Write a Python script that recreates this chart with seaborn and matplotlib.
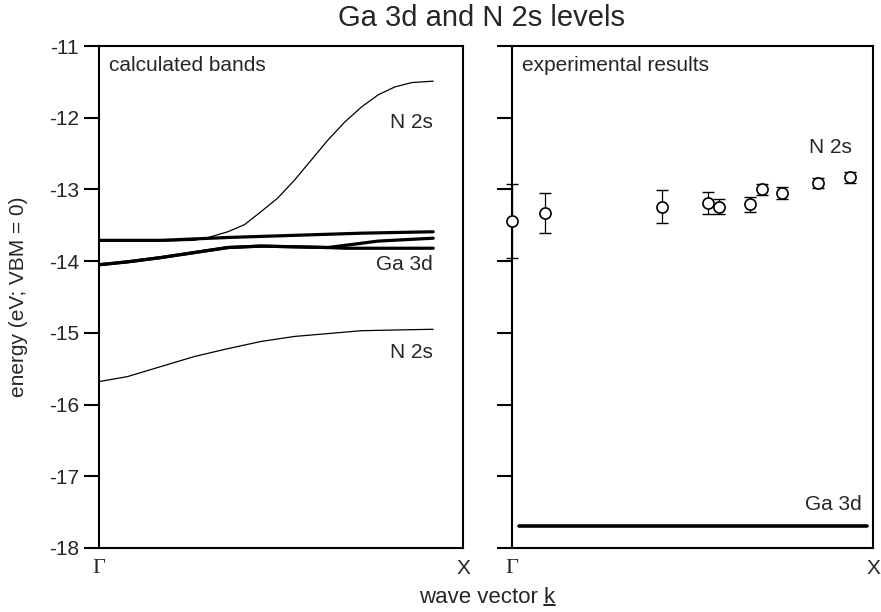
import numpy as np
import pandas as pd
import matplotlib
matplotlib.use("Agg")
import matplotlib.pyplot as plt
import seaborn as sns
from matplotlib.lines import Line2D

# ---------------- data ----------------
# left panel: calculated bands (k from Gamma=0 to X=1)
k_n2s_up = [0.0, 0.17, 0.26, 0.30, 0.354, 0.40, 0.445, 0.491, 0.537, 0.583, 0.629, 0.675, 0.721, 0.767, 0.813, 0.859, 0.918]
e_n2s_up = [-13.72, -13.72, -13.71, -13.67, -13.59, -13.49, -13.31, -13.12, -12.87, -12.59, -12.31, -12.06, -11.85, -11.68, -11.57, -11.51, -11.49]

k_n2s_low = [0.0, 0.078, 0.17, 0.262, 0.354, 0.445, 0.537, 0.629, 0.721, 0.813, 0.918]
e_n2s_low = [-15.68, -15.61, -15.47, -15.33, -15.22, -15.12, -15.05, -15.01, -14.97, -14.96, -14.95]

k_ga_a = [0.0, 0.17, 0.354, 0.537, 0.721, 0.918]
e_ga_a = [-13.71, -13.71, -13.67, -13.64, -13.61, -13.59]

k_ga_b1 = [0.0, 0.078, 0.17, 0.262, 0.354, 0.445, 0.537, 0.629, 0.675, 0.767, 0.918]
e_ga_b1 = [-14.05, -14.01, -13.95, -13.88, -13.81, -13.79, -13.80, -13.81, -13.78, -13.72, -13.68]

k_ga_b2 = [0.0, 0.078, 0.17, 0.262, 0.354, 0.445, 0.537, 0.629, 0.675, 0.918]
e_ga_b2 = [-14.05, -14.01, -13.95, -13.88, -13.81, -13.79, -13.80, -13.81, -13.82, -13.82]

# right panel: experimental results
k_exp = [0.0, 0.091, 0.416, 0.543, 0.573, 0.659, 0.691, 0.749, 0.848, 0.936]
e_exp = [-13.44, -13.33, -13.24, -13.19, -13.24, -13.21, -13.00, -13.05, -12.91, -12.83]
err_exp = [0.51, 0.28, 0.23, 0.15, 0.10, 0.10, 0.08, 0.08, 0.07, 0.08]

k_ga_exp = [0.02, 0.983]
e_ga_exp = [-17.69, -17.69]

y_ticks = [-11, -12, -13, -14, -15, -16, -17, -18]
y_tick_labels = ["-11", "-12", "-13", "-14", "-15", "-16", "-17", "-18"]
x_ticks = [0, 1]
x_tick_labels = ["\u0393", "X"]

# ---------------- style ----------------
sns.set_theme(style="ticks")
plt.rcParams["font.family"] = ["Liberation Sans", "DejaVu Sans"]
plt.rcParams["axes.unicode_minus"] = False

fig = plt.figure(figsize=(8.81, 6.12), dpi=100)
axL = fig.add_axes([0.1124, 0.1046, 0.4132, 0.8202])
axR = fig.add_axes([0.5812, 0.1046, 0.4098, 0.8202])

thick = 2.3
thin = 0.9

# left panel curves
sns.lineplot(x=k_n2s_up, y=e_n2s_up, ax=axL, color="black", lw=thin, sort=False)
sns.lineplot(x=k_n2s_low, y=e_n2s_low, ax=axL, color="black", lw=thin, sort=False)
for kk, ee in [(k_ga_a, e_ga_a), (k_ga_b1, e_ga_b1), (k_ga_b2, e_ga_b2)]:
    sns.lineplot(x=kk, y=ee, ax=axL, color="black", lw=thick, sort=False)

# right panel
eb = axR.errorbar(k_exp, e_exp, yerr=err_exp, fmt="none", ecolor="black",
                  elinewidth=0.9, capsize=4, capthick=1.0, zorder=4)
for child in eb.get_children():
    child.set_clip_on(False)
sns.scatterplot(x=k_exp, y=e_exp, ax=axR, marker="o", s=64,
                facecolor="white", edgecolor="black", linewidth=1.2, zorder=5,
                clip_on=False)
sns.lineplot(x=k_ga_exp, y=e_ga_exp, ax=axR, color="black", lw=2.6, sort=False)

fs_text = 15
for ax in (axL, axR):
    ax.set_xlim(0, 1)
    ax.set_ylim(-18, -11)
    ax.set_yticks(y_ticks)
    ax.set_xticks(x_ticks)
    for sp in ax.spines.values():
        sp.set_visible(True)
        sp.set_linewidth(1.5)
        sp.set_color("black")
    ax.tick_params(axis="y", direction="out", length=11, width=1.5, color="black")
    ax.tick_params(axis="x", length=0, pad=8)
    ax.set_xticklabels([])
    ax.set_xlabel("")
    ax.set_ylabel("")
    ax.grid(False)

axL.set_yticklabels(y_tick_labels, fontsize=15)
axR.set_yticklabels([])

for ax in (axL, axR):
    ax.text(0, -18.28, x_tick_labels[0], ha="center", va="center", fontsize=16,
            family=["Liberation Serif", "DejaVu Serif"], clip_on=False)
    ax.text(1, -18.28, x_tick_labels[1], ha="center", va="center", fontsize=15, clip_on=False)

axL.text(0.028, -11.27, "calculated bands", ha="left", va="center", fontsize=fs_text)
axL.text(0.918, -12.07, "N 2s", ha="right", va="center", fontsize=fs_text)
axL.text(0.918, -14.05, "Ga 3d", ha="right", va="center", fontsize=fs_text)
axL.text(0.918, -15.27, "N 2s", ha="right", va="center", fontsize=fs_text)

axR.text(0.028, -11.27, "experimental results", ha="left", va="center", fontsize=fs_text)
axR.text(0.94, -12.42, "N 2s", ha="right", va="center", fontsize=fs_text)
axR.text(0.97, -17.40, "Ga 3d", ha="right", va="center", fontsize=fs_text)

fig.text(0.546, 0.970, "Ga 3d and N 2s levels", ha="center", va="center", fontsize=21)
fig.text(0.021, 0.515, "energy (eV; VBM = 0)", ha="center", va="center",
         rotation=90, fontsize=15)
xl = fig.text(0.553, 0.024, "wave vector k", ha="center", va="center", fontsize=16)

# underline the k
fig.canvas.draw()
r = fig.canvas.get_renderer()
bb = xl.get_window_extent(r)
tk = fig.text(0, 0, "k", fontsize=16)
wk = tk.get_window_extent(r).width
tk.remove()
W, H = fig.get_size_inches() * fig.dpi
x0 = (bb.x1 - wk) / W
x1 = bb.x1 / W
yu = (bb.y0 + 2.5) / H
fig.add_artist(Line2D([x0, x1], [yu, yu], transform=fig.transFigure, color="black", lw=1.2))

fig.savefig("out.png", dpi=100)
